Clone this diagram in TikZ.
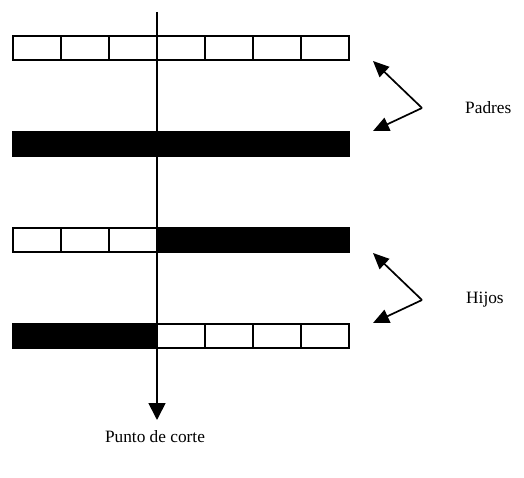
\documentclass[tikz,border=0pt]{standalone}
\usepackage{fontspec}
\setmainfont{Liberation Serif}
\usetikzlibrary{arrows.meta}
\begin{document}
\begin{tikzpicture}[x=1pt,y=-1pt,
  cell/.style={draw,line width=1.7pt,minimum width=48pt,minimum height=24pt,inner sep=0pt,outer sep=0pt},
  blk/.style={draw,fill=black,line width=1.7pt,minimum height=24pt,inner sep=0pt,outer sep=0pt},
  lbl/.style={font=\fontsize{17.3}{20}\selectfont,inner sep=0pt},
  pointer/.style={line width=1.7pt,-{Triangle[length=16pt,width=14pt]}},
  cutline/.style={line width=1.7pt,-{Triangle[length=17pt,width=17pt]}}]
\useasboundingbox (0,0) rectangle (524,478);
% cut line
\coordinate (ctop) at (157,12);
\coordinate (ctip) at (157,420);
\draw[cutline] (ctop) -- (ctip);
% row 1: parent 1 (white)
\foreach \i in {0,...,6} \node[cell] (a\i) at ({37+48*\i},48) {};
% row 2: parent 2 (black)
\node[blk,minimum width=336pt] (b) at (181,144) {};
% row 3: child 1
\foreach \i in {0,1,2} \node[cell] (c\i) at ({37+48*\i},240) {};
\node[blk,minimum width=192pt] (cb) at (253,240) {};
% row 4: child 2
\node[blk,minimum width=144pt] (db) at (85,336) {};
\foreach \i in {3,...,6} \node[cell] (d\i) at ({37+48*\i},336) {};
% labels
\node[lbl,anchor=west] (padres) at (465,108) {Padres};
\node[lbl,anchor=west] (hijos) at (466,300) {Hijos};
\node[lbl] (punto) at (155,437) {Punto de corte};
% pointers
\coordinate (pv) at (422,108);
\coordinate (pu) at (373,61);
\coordinate (pl) at (373,131);
\draw[pointer] (pv) -- (pu);
\draw[pointer] (pv) -- (pl);
\coordinate (hv) at (422,300);
\coordinate (hu) at (373,253);
\coordinate (hl) at (373,323);
\draw[pointer] (hv) -- (hu);
\draw[pointer] (hv) -- (hl);
\end{tikzpicture}
\end{document}
